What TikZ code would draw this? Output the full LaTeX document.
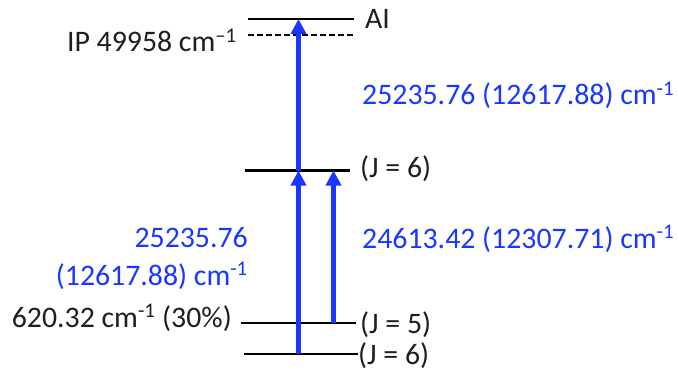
\documentclass[tikz,border=0pt]{standalone}
\usepackage{fontspec}
\setmainfont{Carlito}
\usetikzlibrary{arrows.meta}
\definecolor{tblue}{RGB}{25,55,255}
\definecolor{ttext}{RGB}{30,30,30}
\tikzset{
  level/.style={line width=2pt, black},
  ionlevel/.style={line width=2pt, black, dash pattern=on 6pt off 3pt},
  exc/.style={tblue, line width=4.5pt, -{Triangle[length=15pt,width=15pt]}},
  lab/.style={inner sep=0pt, text=ttext, font=\fontsize{29.8}{36}\selectfont},
  blab/.style={lab, text=tblue},
}
\begin{document}
\begin{tikzpicture}[x=1pt,y=-1pt]
\useasboundingbox (0,0) rectangle (679,374);
% level end points
\coordinate (aiL) at (248,19);   \coordinate (aiR) at (354,19);
\coordinate (ipL) at (248,35);   \coordinate (ipR) at (354,35);
\coordinate (mL) at (245,170.5); \coordinate (mR) at (350,170.5);
\coordinate (j5L) at (241,323);  \coordinate (j5R) at (356,323);
\coordinate (gL) at (244,354);   \coordinate (gR) at (358,354);
% arrow anchor points
\coordinate (g1) at (298.5,354);
\coordinate (m1) at (298.5,170.5);
\coordinate (a1) at (298.5,19);
\coordinate (j52) at (333.5,323);
\coordinate (m2) at (333.5,170.5);
% levels
\draw[level] (aiL) -- (aiR);
\draw[ionlevel] (ipL) -- (ipR);
\draw[level] (mL) -- (mR);
\draw[level] (j5L) -- (j5R);
\draw[level] (gL) -- (gR);
% transitions
\draw[exc] (g1) -- (m1);
\draw[exc] (m1) -- (a1);
\draw[exc] (j52) -- (m2);
% labels
\node[lab, anchor=base west] (tai) at (365,29) {AI};
\node[lab, anchor=base east] (tip) at (237,52) {IP 49958 cm\textsuperscript{–1}};
\node[lab, anchor=base west] (tj6m) at (360,178) {(J = 6)};
\node[lab, anchor=base west] (tj5) at (360,333) {(J = 5)};
\node[lab, anchor=base west] (tj6g) at (358,364) {(J = 6)};
\node[lab, anchor=base east] (tlow) at (232,327) {620.32 cm\textsuperscript{-1} (30\%)};
\node[blab, anchor=base west] (tup) at (362,105) {25235.76 (12617.88) cm\textsuperscript{-1}};
\node[blab, anchor=base west] (tr) at (362,248) {24613.42 (12307.71) cm\textsuperscript{-1}};
\node[blab, anchor=base east] (tl1) at (248,247) {25235.76};
\node[blab, anchor=base east] (tl2) at (248,285) {(12617.88) cm\textsuperscript{-1}};
\end{tikzpicture}
\end{document}
